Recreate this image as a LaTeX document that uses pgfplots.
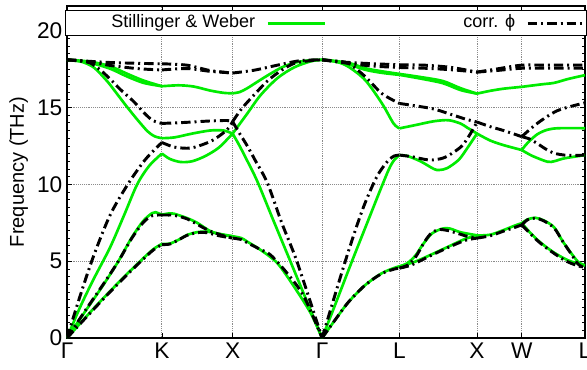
\documentclass[border=0pt]{standalone}
\usepackage{fontspec}
\setmainfont{Liberation Sans}
\usepackage{pgfplots}
\pgfplotsset{compat=1.18}

\definecolor{swgreen}{RGB}{0,235,0}

\pgfplotsset{
  sw/.style={swgreen, line width=2pt, smooth, tension=0.5},
  cp/.style={black, line width=2.2pt, smooth, tension=0.5,
             dash pattern=on 7pt off 3pt on 1.5pt off 3pt},
}
% one dispersion segment per call
\newcommand{\sw}[1]{\addplot[sw, forget plot] coordinates {#1};}
\newcommand{\cp}[1]{\addplot[cp, forget plot] coordinates {#1};}

\begin{document}
\begin{tikzpicture}
\useasboundingbox (-50.25pt,-23.25pt) rectangle (390pt,253.5pt);
\begin{axis}[
  at={(0pt,0pt)}, anchor=south west,
  scale only axis, width=388.5pt, height=249pt,
  xmin=0, xmax=5.7904, ymin=0, ymax=21.6,
  xtick={0,1.0607,1.8513,2.8513,3.7173,4.5833,5.0833,5.7904},
  xticklabels={Γ,K,X,Γ,L,X,W,L},
  ytick={0,5,10,15,20},
  minor y tick num=9,
  grid=major,
  grid style={densely dotted, black!45, line width=0.6pt},
  tick align=inside,
  major tick length=4pt, minor tick length=2pt,
  tick style={black, line width=0.5pt},
  axis line style={line width=0.8pt},
  ylabel={Frequency (THz)},
  ticklabel style={font=\fontsize{17}{19}\selectfont},
  /pgf/number format/assume math mode=true,
  label style={font=\fontsize{15}{17}\selectfont},
  legend columns=2,
  legend plot pos=right,
  legend image code/.code={
    \path (0pt,0pt) -- (42.5pt,0pt);
    \draw[#1] (0pt,0pt) -- (32pt,0pt);},
  legend style={at={(0.5,1)}, yshift=-3pt, anchor=north,
    draw=black, line width=0.8pt, fill=white,
    inner xsep=0pt, inner ysep=3pt,
    font=\fontsize{13.5}{16}\selectfont,
    nodes={inner sep=0pt, text height=10pt, text depth=3pt}},
]
\addlegendimage{sw}
\addlegendentry{\makebox[150.5pt][r]{Stillinger \& Weber\hspace*{8.5pt}}}
\addlegendimage{cp}
\addlegendentry{\makebox[150.5pt][r]{corr. ϕ\hspace*{8.5pt}}}

% ---------------- Stillinger & Weber ----------------
% Gamma - K - X - Gamma
\sw{(0,18.1)(0.258,17.98)(0.482,17.68)(0.669,17.2)(0.855,16.75)(1.0607,16.38)}
\sw{(0,18.1)(0.258,17.9)(0.482,17.52)(0.669,17.02)(0.855,16.6)(1.0607,16.38)}
\sw{(1.0607,16.38)(1.25,16.44)(1.416,16.36)(1.6,16.1)(1.75,15.95)(1.8513,15.92)}
\sw{(1.8513,15.92)(1.93,16.0)(2.015,16.25)(2.15,16.75)(2.276,17.2)(2.4,17.6)(2.537,17.9)(2.7,18.06)(2.8513,18.1)}
\sw{(0,18.1)(0.15,18.0)(0.3,17.6)(0.45,16.7)(0.557,15.9)(0.669,15.05)(0.78,14.25)(0.9,13.45)(0.98,13.12)(1.0607,13.0)}
\sw{(1.0607,13.0)(1.2,13.05)(1.4,13.3)(1.6,13.5)(1.75,13.5)(1.8513,13.3)}
\sw{(1.8513,13.3)(1.883,13.55)(2.015,14.6)(2.164,15.8)(2.351,16.9)(2.537,17.6)(2.724,18.0)(2.8513,18.1)}
\sw{(0,0)(0.146,2.0)(0.295,3.8)(0.482,5.9)(0.639,8.0)(0.785,10.0)(0.919,11.2)(1.0607,12.0)}
\sw{(1.0607,12.0)(1.15,11.65)(1.27,11.45)(1.4,11.5)(1.55,11.85)(1.7,12.4)(1.8513,13.3)}
\sw{(1.8513,13.3)(1.92,12.6)(2.0,11.7)(2.127,10.2)(2.3,7.75)(2.489,5.1)(2.67,2.55)(2.8513,0)}
\sw{(0,0)(0.2,1.7)(0.4,3.4)(0.575,5.0)(0.72,6.5)(0.85,7.6)(0.95,8.12)(0.99,8.18)(1.0607,8.02)}
\sw{(1.0607,8.02)(1.136,8.1)(1.2,8.08)(1.342,7.8)(1.454,7.5)(1.603,6.95)(1.75,6.7)(1.8513,6.62)}
\sw{(0,0)(0.295,1.9)(0.482,3.05)(0.669,4.15)(0.855,5.2)(0.97,5.8)(1.0607,6.12)}
\sw{(1.0607,6.12)(1.155,6.15)(1.267,6.45)(1.342,6.7)(1.45,6.88)(1.566,6.92)(1.7,6.78)(1.8513,6.62)}
\sw{(1.8513,6.62)(1.95,6.5)(2.015,6.27)(2.164,5.73)(2.351,4.87)(2.537,3.35)(2.724,1.62)(2.8513,0)}
% Gamma - L - X - W - L
\sw{(2.8513,18.1)(2.95,18.05)(3.148,17.9)(3.335,17.55)(3.521,17.35)(3.7173,17.18)}
\sw{(2.8513,18.1)(2.95,18.03)(3.148,17.8)(3.335,17.45)(3.521,17.25)(3.7173,17.12)}
\sw{(3.7173,17.18)(3.95,16.98)(4.2,16.72)(4.4,16.25)(4.5833,15.9)}
\sw{(3.7173,17.12)(3.95,16.88)(4.2,16.58)(4.4,16.13)(4.5833,15.9)}
\sw{(4.5833,15.9)(4.73,16.08)(4.88,16.22)(5.0833,16.34)}
\sw{(5.0833,16.34)(5.3,16.5)(5.446,16.6)(5.6,16.85)(5.7904,17.1)}
\sw{(2.8513,18.1)(3.0,18.0)(3.148,17.64)(3.335,16.77)(3.521,15.26)(3.65,13.96)(3.7173,13.64)}
\sw{(3.7173,13.64)(3.893,13.85)(4.1,14.1)(4.265,14.17)(4.4,13.95)(4.47,13.7)(4.5833,13.3)}
\sw{(4.5833,13.3)(4.73,12.85)(4.879,12.55)(5.0833,12.23)}
\sw{(5.0833,12.23)(5.15,12.7)(5.256,13.25)(5.37,13.55)(5.5,13.65)(5.7904,13.65)}
\sw{(5.0833,12.23)(5.2,11.85)(5.37,11.47)(5.446,11.5)(5.561,11.69)(5.7904,11.9)}
\sw{(2.8513,0)(3.0,2.2)(3.186,5.0)(3.37,7.7)(3.5,9.6)(3.6,11.0)(3.66,11.6)(3.7173,11.9)}
\sw{(3.7173,11.9)(3.8,11.85)(3.95,11.5)(4.1,11.0)(4.16,10.93)(4.25,11.05)(4.38,11.6)(4.48,12.4)(4.5833,13.3)}
\sw{(2.8513,0)(3.0,1.2)(3.148,2.35)(3.335,3.45)(3.521,4.22)(3.669,4.58)(3.7173,4.66)}
\sw{(3.7173,4.66)(3.80,4.85)(3.893,5.35)(3.98,6.1)(4.08,6.8)(4.2,7.12)(4.28,7.12)(4.4,6.88)(4.5833,6.68)}
\sw{(3.7173,4.66)(3.893,4.97)(4.08,5.45)(4.265,5.95)(4.452,6.45)(4.5833,6.66)}
\sw{(4.5833,6.67)(4.731,6.72)(4.879,7.02)(5.0,7.3)(5.0833,7.47)}
\sw{(5.0833,7.47)(5.15,7.72)(5.236,7.82)(5.33,7.65)(5.446,7.2)(5.54,6.3)(5.638,5.5)(5.715,4.95)(5.7904,4.72)}
\sw{(5.0833,7.47)(5.17,6.9)(5.256,6.4)(5.35,5.95)(5.446,5.55)(5.55,5.2)(5.638,4.97)(5.7904,4.72)}

% ---------------- corrected potential ----------------
% Gamma - K - X - Gamma
\cp{(0,18.1)(0.258,18.0)(0.5,17.92)(0.8,17.87)(1.0607,17.84)}
\cp{(0,18.1)(0.258,17.95)(0.5,17.72)(0.8,17.52)(1.0607,17.44)}
\cp{(1.0607,17.84)(1.342,17.75)(1.6,17.4)(1.8513,17.24)}
\cp{(1.0607,17.44)(1.342,17.53)(1.6,17.35)(1.8513,17.24)}
\cp{(1.8513,17.24)(2.089,17.42)(2.351,17.75)(2.612,18.05)(2.8513,18.1)}
\cp{(0,18.1)(0.15,18.05)(0.258,17.9)(0.37,17.45)(0.482,16.85)(0.6,16.15)(0.743,15.4)(0.87,14.6)(0.96,14.15)(1.0607,13.96)}
\cp{(1.0607,13.96)(1.3,14.02)(1.6,14.12)(1.79,14.15)(1.8513,14.08)}
\cp{(0,0)(0.15,2.8)(0.295,5.3)(0.482,8.0)(0.68,10.0)(0.874,11.6)(1.0607,12.72)}
\cp{(1.0607,12.72)(1.2,12.42)(1.37,12.35)(1.5,12.55)(1.64,12.9)(1.79,13.55)(1.8513,14.08)}
\cp{(1.8513,14.08)(1.93,13.3)(2.015,12.5)(2.1,11.6)(2.239,10.1)(2.4,7.5)(2.575,4.9)(2.8513,0)}
\cp{(1.8513,14.08)(1.95,14.9)(2.089,15.8)(2.276,16.9)(2.537,17.86)(2.8513,18.1)}
\cp{(0,0)(0.2,1.75)(0.4,3.45)(0.575,5.0)(0.72,6.45)(0.85,7.5)(0.95,7.95)(1.0607,8.0)}
\cp{(1.0607,8.0)(1.136,8.0)(1.2,7.98)(1.342,7.75)(1.5,7.25)(1.603,6.95)(1.75,6.65)(1.8513,6.5)}
\cp{(0,0)(0.295,1.85)(0.482,3.0)(0.669,4.1)(0.855,5.15)(0.97,5.75)(1.0607,6.08)}
\cp{(1.0607,6.08)(1.155,6.12)(1.267,6.45)(1.342,6.68)(1.45,6.85)(1.566,6.85)(1.7,6.65)(1.8513,6.5)}
\cp{(1.8513,6.5)(1.95,6.4)(2.015,6.2)(2.164,5.75)(2.276,5.4)(2.463,4.2)(2.649,2.7)(2.8513,0)}
% Gamma - L - X - W - L
\cp{(2.8513,18.1)(3.1,17.95)(3.4,17.85)(3.7173,17.78)(4.0,17.75)(4.3,17.6)(4.5833,17.3)}
\cp{(2.8513,18.1)(3.1,17.9)(3.4,17.7)(3.7173,17.6)(4.0,17.55)(4.3,17.45)(4.5833,17.3)}
\cp{(4.5833,17.3)(4.8,17.5)(5.0833,17.75)(5.4,17.75)(5.7904,17.75)}
\cp{(4.5833,17.3)(4.8,17.4)(5.0833,17.55)(5.4,17.55)(5.7904,17.55)}
\cp{(2.8513,18.1)(3.0,18.02)(3.148,17.86)(3.335,17.0)(3.521,15.9)(3.7173,15.26)}
\cp{(3.7173,15.26)(3.9,15.1)(4.1,14.9)(4.265,14.6)(4.45,14.25)(4.5833,14.05)}
\cp{(4.5833,14.05)(4.731,13.75)(4.879,13.5)(5.0833,13.1)}
\cp{(5.0833,13.1)(5.256,13.96)(5.485,14.8)(5.7904,15.3)}
\cp{(5.0833,13.1)(5.17,12.95)(5.256,12.66)(5.35,12.3)(5.446,12.02)(5.6,11.88)(5.7904,11.9)}
\cp{(2.8513,0)(3.111,5.0)(3.3,8.3)(3.446,10.3)(3.53,11.1)(3.6,11.6)(3.66,11.85)(3.7173,11.9)}
\cp{(3.7173,11.9)(3.85,11.8)(4.0,11.62)(4.08,11.58)(4.2,11.7)(4.3,12.0)(4.415,12.5)(4.5,13.2)(4.5833,14.05)}
\cp{(2.8513,0)(3.0,1.2)(3.148,2.35)(3.335,3.45)(3.521,4.2)(3.669,4.5)(3.7173,4.55)}
\cp{(3.7173,4.55)(3.81,4.75)(3.9,5.3)(3.98,6.1)(4.06,6.75)(4.15,7.05)(4.25,7.0)(4.36,6.82)(4.47,6.62)(4.5833,6.5)}
\cp{(3.7173,4.55)(3.85,4.75)(4.08,5.4)(4.265,5.9)(4.45,6.35)(4.5833,6.5)}
\cp{(4.5833,6.5)(4.731,6.65)(4.879,6.95)(5.0833,7.35)}
\cp{(5.0833,7.35)(5.15,7.7)(5.236,7.8)(5.33,7.62)(5.446,7.15)(5.54,6.3)(5.638,5.45)(5.715,4.8)(5.7904,4.55)}
\cp{(5.0833,7.35)(5.17,6.85)(5.256,6.35)(5.35,5.9)(5.446,5.5)(5.55,5.1)(5.638,4.85)(5.7904,4.55)}
\end{axis}
\end{tikzpicture}
\end{document}
